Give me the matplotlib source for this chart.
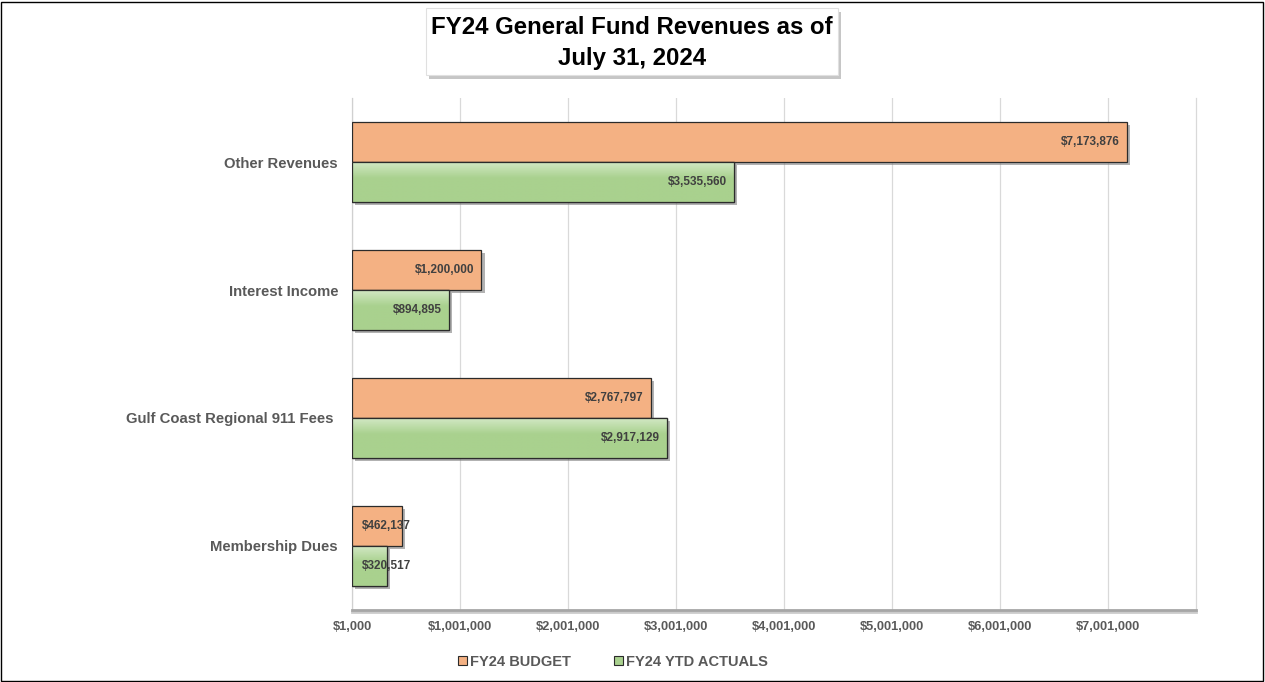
import matplotlib
matplotlib.use("Agg")
import matplotlib.pyplot as plt
import matplotlib.patheffects as pe
import numpy as np
from matplotlib.patches import Rectangle, Patch
from matplotlib.ticker import FuncFormatter
from matplotlib.colors import to_rgb

categories = ["Other Revenues", "Interest Income", "Gulf Coast Regional 911 Fees ", "Membership Dues"]
budget = [7173876, 1200000, 2767797, 462137]
actuals = [3535560, 894895, 2917129, 320517]
series_names = ["FY24 BUDGET", "FY24 YTD ACTUALS"]
tick_values = [1000, 1001000, 2001000, 3001000, 4001000, 5001000, 6001000, 7001000]
title_lines = ["FY24 General Fund Revenues as of", "July 31, 2024"]

ORANGE = "#F4B183"
GREEN = "#A9D18E"
EDGE = "#2b2b2b"
GRAY_TXT = "#595959"
LABEL_TXT = "#404040"

plt.rcParams["font.family"] = ["Liberation Sans", "DejaVu Sans"]

W, H = 1265, 682
fig = plt.figure(figsize=(W / 100, H / 100), dpi=100)

# outer border
fig.patches.append(Rectangle((1 / W, 1 / H), 1 - 3 / W, 1 - 3 / H, transform=fig.transFigure,
                             fill=False, edgecolor="#000000", linewidth=1.0, zorder=0))

XMAX = 7816000
ax = fig.add_axes([352 / W, 1 - 610 / H, (1196 - 352) / W, (610 - 98) / H])
ax.set_xlim(1000, XMAX)
n = len(categories)
ax.set_ylim(n - 0.5, -0.5)

bar_h = 40 / 128
ys = list(range(n))
shadow = [pe.SimplePatchShadow(offset=(2.5, -2.5), shadow_rgbFace="#7f7f7f", alpha=0.6), pe.Normal()]

b1 = ax.barh([y - bar_h / 2 for y in ys], budget, height=bar_h, color=ORANGE, edgecolor=EDGE,
             linewidth=0.9, zorder=3, path_effects=shadow)
b2 = ax.barh([y + bar_h / 2 for y in ys], actuals, height=bar_h, color=GREEN, edgecolor=EDGE,
             linewidth=0.9, zorder=3, path_effects=shadow)

# soft gradient at the top of green bars
g0 = np.array(to_rgb("#D2E8C4"))
g1 = np.array(to_rgb(GREEN))
t = np.linspace(0, 1, 64)
w = np.clip(t / 0.4, 0, 1)[:, None]
grad = (g0 * (1 - w) + g1 * w)[:, None, :]
for patch, y, v in zip(b2.patches, ys, actuals):
    top = y
    bot = y + bar_h
    im = ax.imshow(grad, extent=[0, v, bot, top], aspect="auto", zorder=3.2, interpolation="bilinear")
    im.set_clip_path(patch)
ax.set_xlim(1000, XMAX)
ax.set_ylim(n - 0.5, -0.5)
# redraw green edges on top
for patch in b2.patches:
    r = Rectangle(patch.get_xy(), patch.get_width(), patch.get_height(), fill=False,
                  edgecolor=EDGE, linewidth=0.9, zorder=3.4)
    ax.add_patch(r)

px_per_unit = (1196 - 352) / (XMAX - 1000)

def add_labels(vals, offset_sign):
    for y, v in zip(ys, vals):
        txt = "${:,.0f}".format(v)
        yy = y + offset_sign * bar_h / 2
        bar_px = (v - 1000) * px_per_unit
        if bar_px > 90:
            ax.text(v - 7 / px_per_unit, yy, txt, ha="right", va="center", fontsize=8.5,
                    fontweight="bold", color=LABEL_TXT, zorder=5)
        else:
            ax.text(1000 + 10 / px_per_unit, yy, txt, ha="left", va="center", fontsize=8.5,
                    fontweight="bold", color=LABEL_TXT, zorder=5)

add_labels(budget, -1)
add_labels(actuals, 1)

ax.set_yticks(ys)
ax.set_yticklabels(categories, fontsize=10.7, fontweight="bold", color=GRAY_TXT)
ax.set_xticks(tick_values)
ax.xaxis.set_major_formatter(FuncFormatter(lambda v, p: "${:,.0f}".format(v)))
for lbl in ax.get_xticklabels():
    lbl.set_fontweight("bold")
    lbl.set_color(GRAY_TXT)
    lbl.set_fontsize(9.3)
ax.tick_params(axis="both", length=0)
ax.tick_params(axis="x", pad=8)
ax.tick_params(axis="y", pad=10)

ax.grid(axis="x", color="#d9d9d9", linewidth=0.9, zorder=0)
ax.set_axisbelow(True)
ax.axvline(XMAX, color="#d9d9d9", linewidth=0.9, zorder=0, clip_on=False)
for s in ["top", "right"]:
    ax.spines[s].set_visible(False)
ax.spines["left"].set_color("#d0d0d0")
ax.spines["left"].set_linewidth(0.9)
ax.spines["bottom"].set_color("#a6a6a6")
ax.spines["bottom"].set_linewidth(2.0)
ax.spines["bottom"].set_path_effects([pe.SimpleLineShadow(offset=(0, -1.5), shadow_color="#bfbfbf", alpha=0.8), pe.Normal()])

# title box with shadow
bx0, by0, bx1, by1 = 426, 8, 838, 75
fig.patches.append(Rectangle(((bx0 + 3) / W, 1 - (by1 + 4) / H), (bx1 - bx0) / W, (by1 - by0) / H,
                             transform=fig.transFigure, facecolor="#a0a0a0", edgecolor="none",
                             alpha=0.6, zorder=1))
fig.patches.append(Rectangle((bx0 / W, 1 - by1 / H), (bx1 - bx0) / W, (by1 - by0) / H,
                             transform=fig.transFigure, facecolor="white", edgecolor="#e0e0e0",
                             linewidth=0.8, zorder=2))
fig.text(632 / W, 1 - 28 / H, title_lines[0], ha="center", va="center", fontsize=17.3,
         fontweight="bold", color="black", zorder=3)
fig.text(632 / W, 1 - 58 / H, title_lines[1], ha="center", va="center", fontsize=17.3,
         fontweight="bold", color="black", zorder=3)

handles = [Patch(facecolor=ORANGE, edgecolor=EDGE, linewidth=0.8),
           Patch(facecolor=GREEN, edgecolor=EDGE, linewidth=0.8)]
leg = fig.legend(handles, series_names, loc="center", bbox_to_anchor=(613 / W, 1 - 662 / H), ncol=2,
                 frameon=False, handlelength=0.6, handleheight=0.6, handletextpad=0.2,
                 columnspacing=3.0, prop={"weight": "bold", "size": 10.5})
for t in leg.get_texts():
    t.set_color(GRAY_TXT)

fig.savefig("out.png", dpi=100)
